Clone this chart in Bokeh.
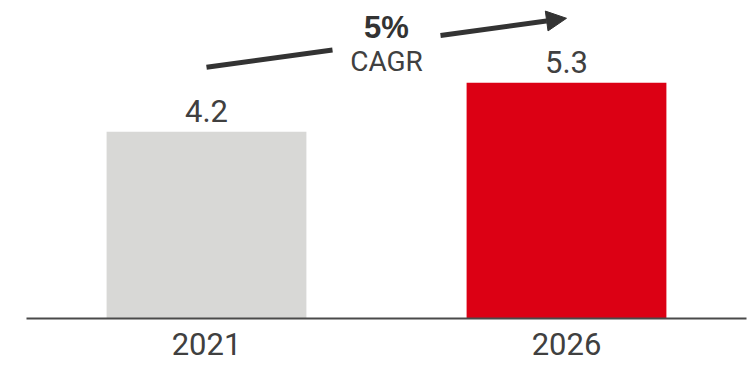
from bokeh.plotting import figure
from bokeh.models import Range1d, Arrow, NormalHead, FixedTicker
from bokeh.core.properties import value
from bokeh.embed import file_html
from bokeh.resources import INLINE

years = ["2021", "2026"]
values = [4.2, 5.3]
colors = ["#d8d8d6", "#dc0014"]
cagr_pct = "5%"
cagr_label = "CAGR"

xs = [i + 0.5 for i in range(len(years))]
labels = [f"{v:.1f}" for v in values]

TEXT = "#404040"
FONT = "Roboto"

p = figure(width=753, height=365, output_backend="svg", toolbar_location=None,
           x_range=Range1d(0, len(years)), y_range=Range1d(0, 7.15),
           min_border_left=26, min_border_right=7, min_border_top=0, min_border_bottom=47)
p.outline_line_color = None
p.grid.visible = False
p.yaxis.visible = False
p.background_fill_color = "white"
p.border_fill_color = "white"

p.vbar(x=xs, top=values, width=0.555, color=colors, line_color=None)

p.text(x=xs, y=values, text=labels, text_align="center", text_baseline="bottom",
       y_offset=-10, text_font=value(FONT), text_font_size="31px", text_color=TEXT)

ax = p.xaxis[0]
ax.ticker = FixedTicker(ticks=xs)
ax.major_label_overrides = {x: y for x, y in zip(xs, years)}
ax.major_tick_line_color = None
ax.minor_tick_line_color = None
ax.axis_line_color = "#4a4a4a"
ax.axis_line_width = 2
ax.major_label_text_font = FONT
ax.major_label_text_font_size = "31px"
ax.major_label_text_color = TEXT
ax.major_label_standoff = 8

# CAGR arrow from above first bar to above last bar, gap for the label
off = 1.45
x0, y0 = xs[0], values[0] + off
x1, y1 = xs[-1], values[-1] + off
t1, t2 = 0.35, 0.65
ARROW = "#333333"
p.segment(x0=[x0], y0=[y0], x1=[x0 + t1 * (x1 - x0)], y1=[y0 + t1 * (y1 - y0)],
          line_color=ARROW, line_width=5)
p.add_layout(Arrow(x_start=x0 + t2 * (x1 - x0), y_start=y0 + t2 * (y1 - y0), x_end=x1, y_end=y1,
                   line_color=ARROW, line_width=5,
                   end=NormalHead(size=20, fill_color=ARROW, line_color=ARROW, line_width=1)))

xm = (x0 + x1) / 2
p.text(x=[xm], y=[6.54], text=[cagr_pct], text_align="center", text_baseline="middle",
       text_font=value("Liberation Sans"), text_font_style="bold", text_font_size="31px",
       text_color="#333333")
p.text(x=[xm], y=[5.78], text=[cagr_label], text_align="center", text_baseline="middle",
       text_font=value(FONT), text_font_size="28px", text_color=TEXT)

open("out.html", "w").write(file_html(p, INLINE))
